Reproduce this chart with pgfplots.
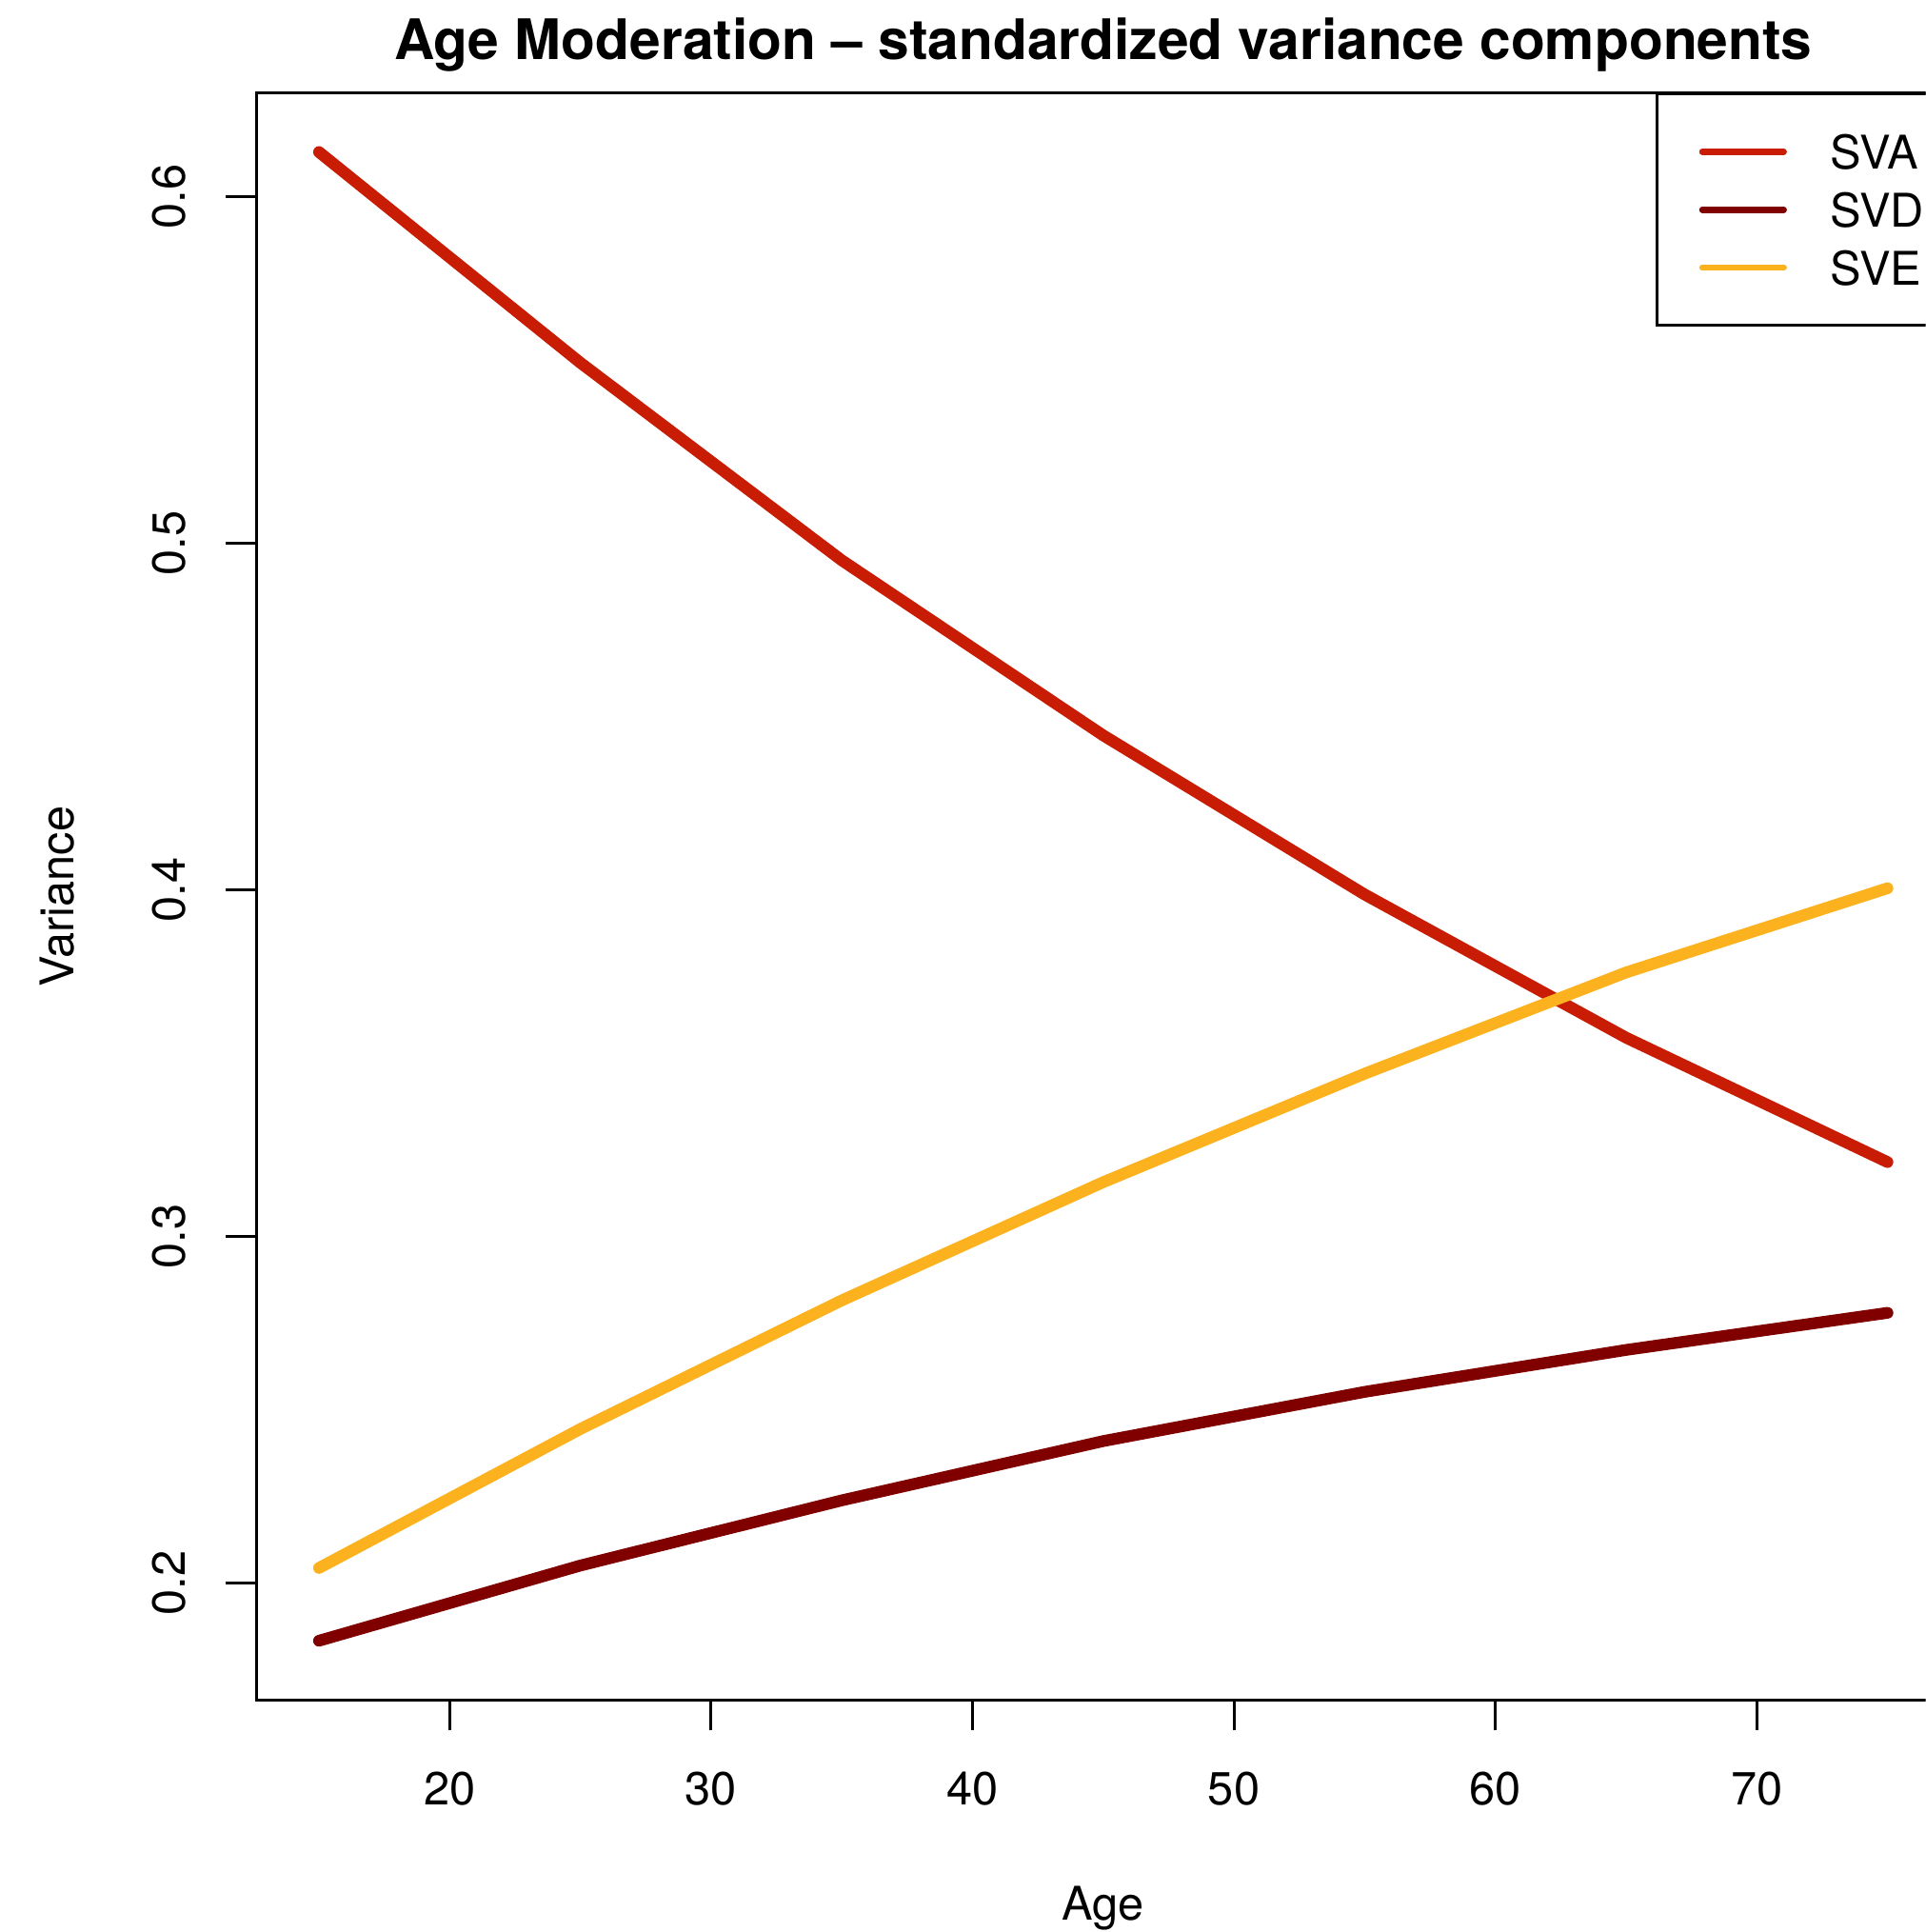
\documentclass[border=0pt]{standalone}
\usepackage{fontspec}
\setmainfont{TeX Gyre Heros}
\usepackage{pgfplots}
\pgfplotsset{compat=1.18}
\newlength\myu \setlength\myu{0.3pt}
\definecolor{sva}{RGB}{200,28,4}
\definecolor{svd}{RGB}{128,0,0}
\definecolor{sve}{RGB}{252,178,30}
\begin{document}
\begin{tikzpicture}
\useasboundingbox (0,0) rectangle (1563\myu,1568\myu);
\clip (0,0) rectangle (1563\myu,1568\myu);
\begin{axis}[
  scale only axis, width=1375\myu, height=1305\myu,
  at={(208\myu,188\myu)}, anchor=south west,
  xmin=12.6, xmax=77.4, ymin=0.1661, ymax=0.6300,
  axis line style={line width=2.3\myu},
  tick style={line width=2.3\myu, black},
  tick align=outside, major tick length=24.5\myu,
  xtick pos=left, ytick pos=left,
  xtick={20,30,40,50,60,70}, ytick={0.2,0.3,0.4,0.5,0.6},
  /pgf/number format/assume math mode=true,
  /pgf/number format/fixed,
  tick label style={font=\fontsize{11.3}{13}\selectfont},
  xticklabel style={anchor=center, yshift=-47\myu},
  yticklabel style={rotate=90, anchor=center, yshift=46\myu},
  xlabel={Age}, ylabel={Variance},
  label style={font=\fontsize{11.3}{13}\selectfont},
  xlabel style={at={(rel axis cs:0.5,0)}, anchor=base, yshift=-178\myu},
  ylabel style={at={(rel axis cs:0,0.5)}, rotate=0, anchor=base, yshift=148\myu},
  title={Age Moderation -- standardized variance components},
  title style={at={(rel axis cs:0.5,1)}, anchor=base, yshift=7\myu, font=\bfseries\fontsize{13.6}{16}\selectfont},
  legend style={at={(rel axis cs:1,1)}, anchor=north east, draw=black, line width=2.3\myu,
    inner xsep=0pt, inner ysep=33\myu, row sep=19\myu, font=\fontsize{11.3}{13}\selectfont,
    nodes={inner sep=0pt, text height=28\myu, text depth=0pt},
    /tikz/every odd column/.append style={column sep=35\myu},
    /tikz/every even column/.append style={text width=96\myu, align=left}},
  legend cell align=left,
  legend image code/.code={\path[draw=none] (0,0) -- (106\myu,0); \draw[#1, line width=5.2\myu, line cap=round] (37\myu,0) -- (103\myu,0);},
  every axis plot/.append style={line width=9.5\myu, line cap=round, line join=round},
]
\addplot[sva] coordinates {(15,0.6128) (25,0.5520) (35,0.4950) (45,0.4445) (55,0.3986) (65,0.3573) (75,0.3214)};
\addplot[svd] coordinates {(15,0.1833) (25,0.2050) (35,0.2238) (45,0.2409) (55,0.2551) (65,0.2672) (75,0.2779)};
\addplot[sve] coordinates {(15,0.2043) (25,0.2444) (35,0.2815) (45,0.3156) (55,0.3469) (65,0.3761) (75,0.4004)};
\legend{SVA,SVD,SVE}
\end{axis}
\end{tikzpicture}
\end{document}
